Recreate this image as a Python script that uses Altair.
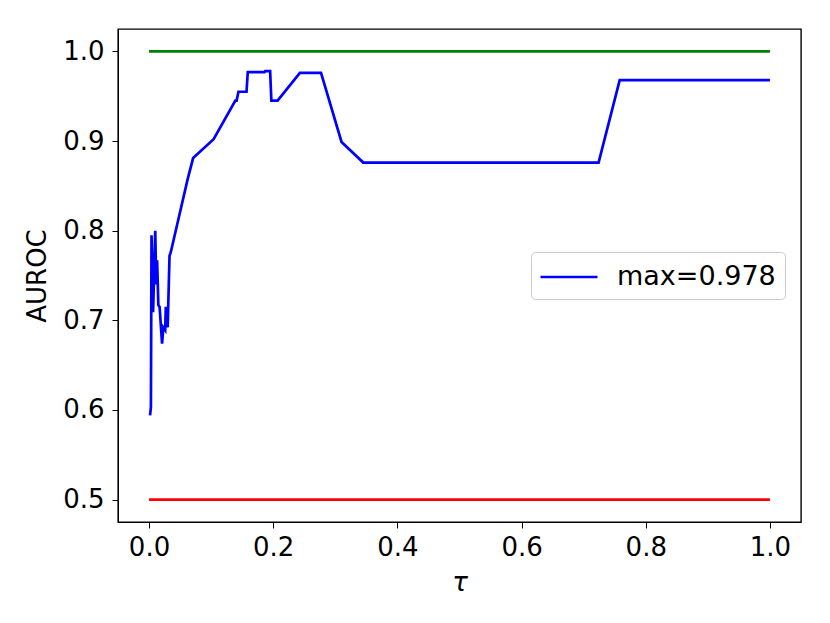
import altair as alt
import pandas as pd

tau = [0.0016, 0.003, 0.004, 0.0065, 0.010, 0.0115, 0.013, 0.015, 0.017, 0.021,
       0.023, 0.026, 0.027, 0.030, 0.033, 0.035, 0.062, 0.071, 0.104, 0.139,
       0.141, 0.144, 0.157, 0.159, 0.186, 0.187, 0.195, 0.197, 0.207, 0.243,
       0.277, 0.310, 0.345, 0.724, 0.758, 1.0]
auroc = [0.594, 0.603, 0.795, 0.709, 0.800, 0.740, 0.767, 0.717, 0.715, 0.674,
         0.692, 0.689, 0.715, 0.692, 0.772, 0.776, 0.857, 0.881, 0.902, 0.945,
         0.945, 0.955, 0.955, 0.977, 0.977, 0.978, 0.978, 0.945, 0.945, 0.976,
         0.976, 0.899, 0.876, 0.876, 0.968, 0.968]
series_label = "max=0.978"
ref_x = [0.0, 1.0]
upper_ref = [1.0, 1.0]
lower_ref = [0.5, 0.5]

df = pd.DataFrame({"tau": tau, "auroc": auroc, "series": series_label})
df_up = pd.DataFrame({"tau": ref_x, "auroc": upper_ref})
df_lo = pd.DataFrame({"tau": ref_x, "auroc": lower_ref})

FONT = "DejaVu Sans"
xscale = alt.Scale(domain=[-0.05, 1.05], nice=False, zero=False)
yscale = alt.Scale(domain=[0.475, 1.025], nice=False, zero=False)

xaxis = alt.Axis(values=[0, 0.2, 0.4, 0.6, 0.8, 1.0], format=".1f", grid=False,
                 title="τ", titleFontStyle="italic", titleFontWeight="normal",
                 titleFontSize=26, titleFont=FONT, titlePadding=9,
                 labelFont=FONT, labelFontSize=26, labelPadding=6,
                 tickSize=6, tickColor="black", domainColor="black",
                 labelColor="black", titleColor="black", labelFlush=False)
yaxis = alt.Axis(values=[0.5, 0.6, 0.7, 0.8, 0.9, 1.0], format=".1f", grid=False,
                 title="AUROC", titleFontWeight="normal", titleFontSize=26,
                 titleFont=FONT, titlePadding=12,
                 labelFont=FONT, labelFontSize=26, labelPadding=8,
                 tickSize=6, tickColor="black", domainColor="black",
                 labelColor="black", titleColor="black", labelFlush=False)

green = alt.Chart(df_up).mark_line(color="#008000", strokeWidth=2.7).encode(
    x=alt.X("tau:Q", scale=xscale, axis=xaxis),
    y=alt.Y("auroc:Q", scale=yscale, axis=yaxis),
)
red = alt.Chart(df_lo).mark_line(color="#ff0000", strokeWidth=2.7).encode(
    x=alt.X("tau:Q", scale=xscale),
    y=alt.Y("auroc:Q", scale=yscale),
)
blue = alt.Chart(df).mark_line(strokeWidth=2.7).encode(
    x=alt.X("tau:Q", scale=xscale),
    y=alt.Y("auroc:Q", scale=yscale),
    color=alt.Color("series:N",
                    scale=alt.Scale(domain=[series_label], range=["#0000ff"]),
                    legend=alt.Legend(title=None, orient="none", legendX=413, legendY=223,
                                      symbolType="M-2,0L2,0", symbolSize=812,
                                      symbolOffset=13,
                                      symbolStrokeWidth=2.7, labelFont=FONT,
                                      labelFontSize=27, labelColor="black",
                                      labelOffset=32, padding=9,
                                      strokeColor="#cccccc", fillColor="white",
                                      cornerRadius=4)),
)

chart = alt.layer(green, red, blue).properties(
    width=683, height=493,
    autosize=alt.AutoSizeParams(type="none"),
    padding={"left": 110, "top": 21, "right": 20, "bottom": 80},
).configure(background="white").configure_view(stroke="black", strokeWidth=1.4)

chart.save("out.html", embed_options={"renderer": "svg", "actions": False})
